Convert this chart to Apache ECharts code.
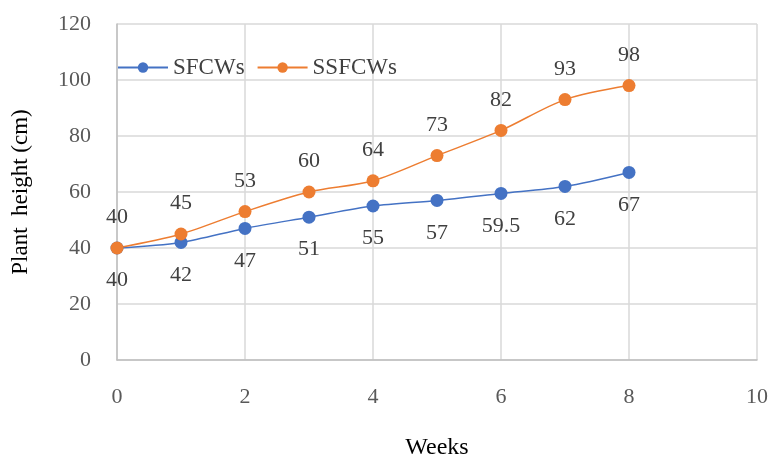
<!DOCTYPE html>
<html><head><meta charset="utf-8">
<script src="https://cdn.jsdelivr.net/npm/echarts@6/dist/echarts.min.js"></script>
<style>html,body{margin:0;padding:0;background:#fff}#c{width:769px;height:458px}</style>
</head><body><div id="c"></div>
<script>
const weeks = [0,1,2,3,4,5,6,7,8];
const sfcws = [40,42,47,51,55,57,59.5,62,67];
const ssfcws = [40,45,53,60,64,73,82,93,98];
const seriesNames = ['SFCWs','SSFCWs'];
const font = 'Liberation Serif';
const chart = echarts.init(document.getElementById('c'));
const pair = a => weeks.map((w,i)=>[w,a[i]]);
chart.setOption({
  animation:false,
  textStyle:{fontFamily:font},
  legend:{left:112, top:51, itemWidth:50, itemHeight:13, itemGap:12,
    textStyle:{fontFamily:font,fontSize:23,color:'#404040'},
    data:seriesNames},
  grid:{left:117,right:12,top:24,bottom:98,containLabel:false,outerBoundsMode:'none'},
  xAxis:{type:'value',min:0,max:10,interval:2,
    name:'Weeks',nameLocation:'middle',nameGap:76,
    nameTextStyle:{fontFamily:font,fontSize:24,color:'#000'},
    axisLine:{show:true,lineStyle:{color:'#bfbfbf',width:1.5}},
    axisTick:{show:false},
    axisLabel:{fontFamily:font,fontSize:22,color:'#595959',margin:26},
    splitLine:{show:true,lineStyle:{color:'#d9d9d9',width:1.5}}},
  yAxis:{type:'value',min:0,max:120,interval:20,
    name:'Plant  height (cm)',nameLocation:'middle',nameGap:85,
    nameTextStyle:{fontFamily:font,fontSize:23,color:'#000'},
    axisLine:{show:true,lineStyle:{color:'#bfbfbf',width:1.5}},
    axisTick:{show:false},
    axisLabel:{fontFamily:font,fontSize:22,color:'#595959',margin:26},
    splitLine:{show:true,lineStyle:{color:'#d9d9d9',width:1.5}}},
  series:[
    {name:seriesNames[0],type:'line',smooth:0.3,data:pair(sfcws),
     symbol:'circle',symbolSize:13,
     itemStyle:{color:'#4472C4'},lineStyle:{color:'#4472C4',width:1.5},
     label:{show:true,position:'bottom',distance:15,fontFamily:font,fontSize:22,color:'#404040',
       formatter:p=>p.value[1]}},
    {name:seriesNames[1],type:'line',smooth:0.3,data:pair(ssfcws),
     symbol:'circle',symbolSize:13,
     itemStyle:{color:'#ED7D31'},lineStyle:{color:'#ED7D31',width:1.5},
     label:{show:true,position:'top',distance:13,fontFamily:font,fontSize:22,color:'#404040',
       formatter:p=>p.value[1]}}
  ]
});
</script></body></html>
